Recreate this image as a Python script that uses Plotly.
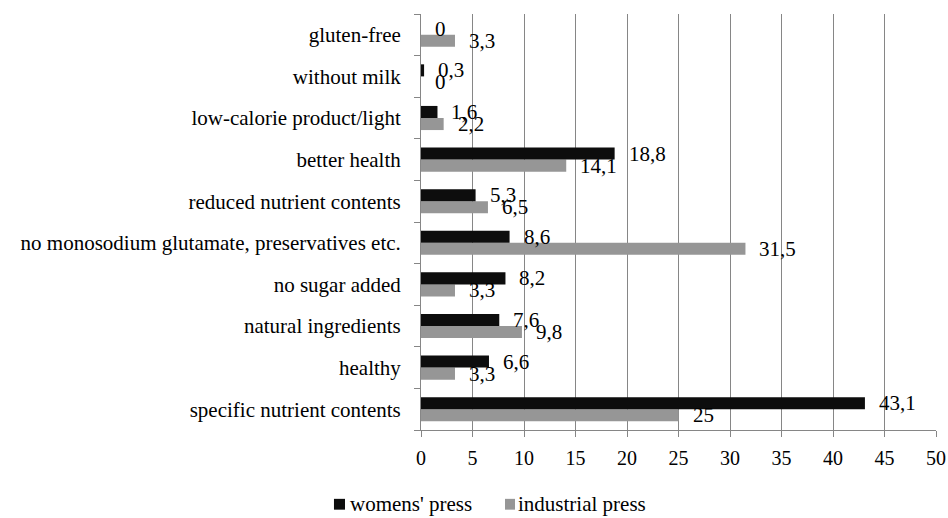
import plotly.graph_objects as go

categories = ["specific nutrient contents", "healthy", "natural ingredients", "no sugar added",
              "no monosodium glutamate, preservatives etc.", "reduced nutrient contents",
              "better health", "low-calorie product/light", "without milk", "gluten-free"]
womens = [43.1, 6.6, 7.6, 8.2, 8.6, 5.3, 18.8, 1.6, 0.3, 0]
industrial = [25, 3.3, 9.8, 3.3, 31.5, 6.5, 14.1, 2.2, 0, 3.3]
x_ticks = [0, 5, 10, 15, 20, 25, 30, 35, 40, 45, 50]

FONT = "'Liberation Serif', 'Times New Roman', serif"
BLACK = "#0d0d0d"
GRAY = "#969696"
AXIS = "#868686"
pos = list(range(len(categories)))
BW = 0.29

def fmt(v):
    return (f"{v:g}").replace(".", ",")

fig = go.Figure()
fig.add_trace(go.Bar(y=pos, x=industrial, orientation="h", name="industrial press",
                     marker=dict(color=GRAY, line=dict(width=0)), width=BW, offset=-BW))
fig.add_trace(go.Bar(y=pos, x=womens, orientation="h", name="womens' press",
                     marker=dict(color=BLACK, line=dict(width=0)), width=BW, offset=0))

for i, (w, ind) in enumerate(zip(womens, industrial)):
    fig.add_annotation(x=w, y=i + BW / 2, text=fmt(w), showarrow=False, xanchor="left",
                       xshift=12, font=dict(family=FONT, size=21, color="#000"))
    fig.add_annotation(x=ind, y=i - BW / 2, text=fmt(ind), showarrow=False, xanchor="left",
                       xshift=12, font=dict(family=FONT, size=21, color="#000"))

# legend: square swatches + text
LEG_Y = -0.178
for x0, x1, tx, col, name in [(-0.169, -0.1476, -0.1425, BLACK, "womens' press"),
                              (0.1631, 0.1825, 0.1840, GRAY, "industrial press")]:
    fig.add_shape(type="rect", xref="paper", yref="paper", x0=x0, x1=x1,
                  y0=LEG_Y - 0.0135, y1=LEG_Y + 0.0125, fillcolor=col, line=dict(width=0))
    fig.add_annotation(xref="paper", yref="paper", x=tx, y=LEG_Y, xanchor="left", yanchor="middle",
                       showarrow=False, text=name, font=dict(family=FONT, size=21, color="#000"))

fig.update_layout(
    width=948, height=518,
    margin=dict(l=421, r=12, t=14, b=88, autoexpand=False),
    plot_bgcolor="white", paper_bgcolor="white",
    barmode="overlay",
    font=dict(family=FONT, size=21, color="#000"),
    showlegend=False,
    xaxis=dict(range=[0, 50], tickvals=x_ticks, showgrid=True, gridcolor=AXIS, gridwidth=1,
               showline=True, linecolor=AXIS, linewidth=1, ticks="outside", ticklen=6,
               tickcolor=AXIS, zeroline=False, fixedrange=True, ticklabelstandoff=4,
               automargin=False, tickfont=dict(family=FONT, size=20)),
    yaxis=dict(range=[-0.5, len(categories) - 0.5], tickvals=pos, ticktext=categories,
               showgrid=False, showline=True, linecolor=AXIS, linewidth=1, ticks="",
               zeroline=False, ticklabelstandoff=15, automargin=False,
               tickfont=dict(family=FONT, size=21),
               minor=dict(tickvals=[p - 0.5 for p in pos] + [len(categories) - 0.5],
                          ticks="outside", ticklen=6, tickcolor=AXIS, showgrid=False)),
)

fig.write_html("out.html", config={"displayModeBar": False},
               post_script="document.body.style.margin='0';document.body.style.overflow='hidden';")
